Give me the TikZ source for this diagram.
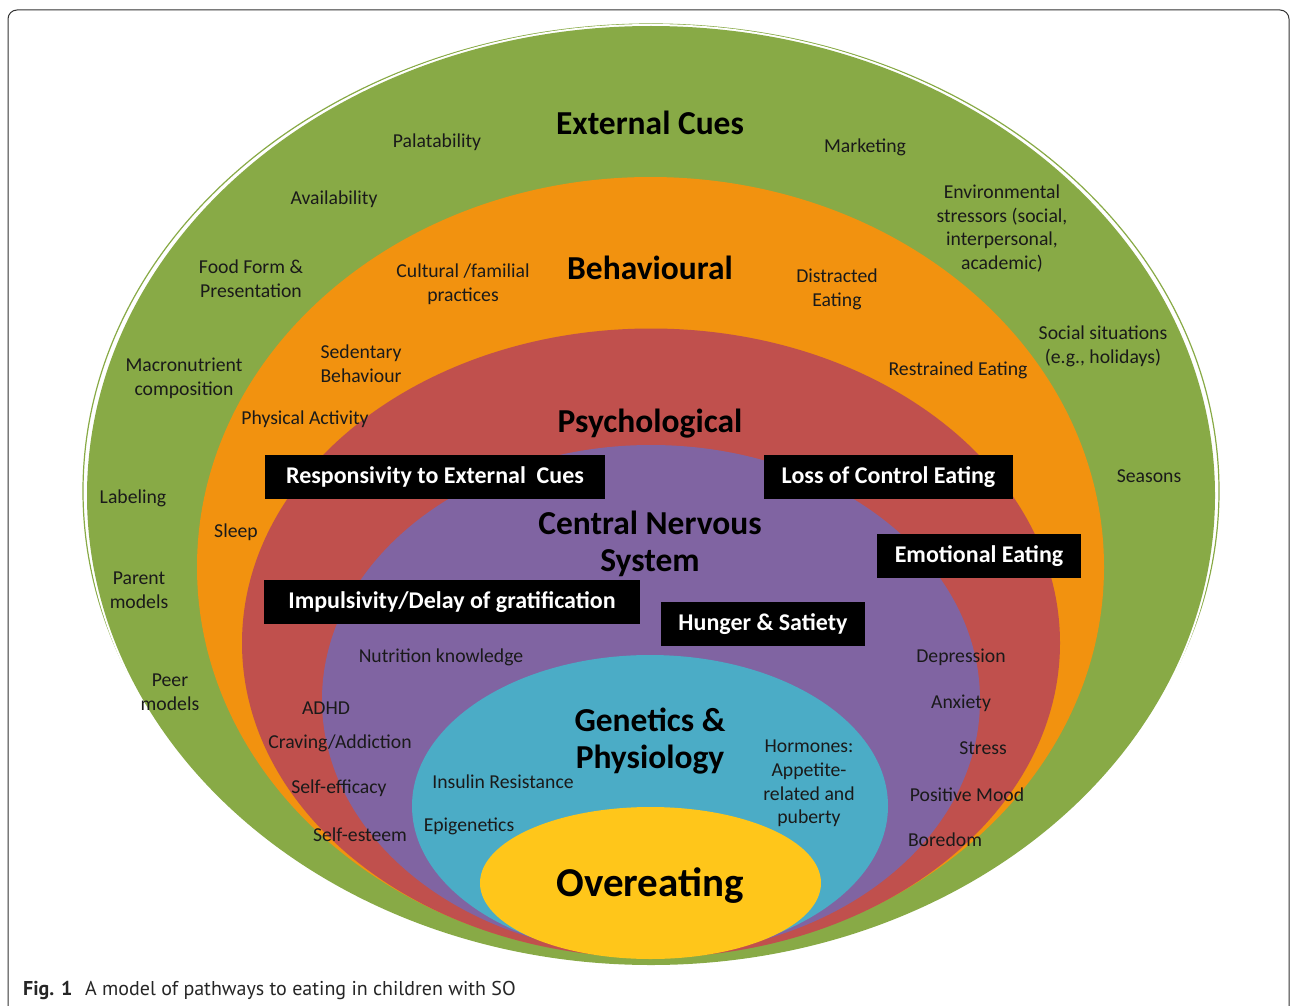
\documentclass[tikz,border=0pt]{standalone}
\usepackage{fontspec}
\setmainfont{Carlito}
\newfontfamily\capfont{PT Sans}
\definecolor{greenc}{HTML}{88AA46}
\definecolor{orangec}{HTML}{F2920F}
\definecolor{redc}{HTML}{C0504D}
\definecolor{purplec}{HTML}{8064A2}
\definecolor{bluec}{HTML}{4BACC6}
\definecolor{yellowc}{HTML}{FFC61A}
\definecolor{labelc}{HTML}{1A1A1A}
\definecolor{framec}{HTML}{333333}
\begin{document}
\begin{tikzpicture}[x=1pt,y=-1pt,
  lbl/.style={font=\fontsize{19.7}{23.6}\selectfont, text=labelc, align=center, inner sep=0pt, yshift=-1.5pt},
  ttl/.style={font=\fontsize{33.5}{37}\selectfont\bfseries, text=black, align=center, inner sep=0pt, yshift=-2.5pt},
  bigttl/.style={font=\fontsize{41}{45}\selectfont\bfseries, text=black, align=center, inner sep=0pt, yshift=-2.5pt},
  blackbox/.style={fill=black, text=white, font=\fontsize{24}{28}\selectfont\bfseries, inner sep=0pt, minimum height=44pt},
  capt/.style={font=\capfont\fontsize{20}{24}\selectfont, text=black!85, inner sep=0pt, anchor=base west}
]
\useasboundingbox (0,0) rectangle (1290,1006);
\fill[white] (0,0) rectangle (1290,1006);
\draw[framec, line width=1pt, rounded corners=9pt] (8,10) rectangle (1289,1016);

% rings
\draw[greenc, line width=1.2pt] (651,491) ellipse [x radius=568pt, y radius=467pt];
\fill[white] (651,495.5) ellipse [x radius=566pt, y radius=471.5pt];
\fill[greenc] (651,495.5) ellipse [x radius=564pt, y radius=469.5pt];
\fill[orangec] (650.5,567) ellipse [x radius=453.5pt, y radius=390pt];
\fill[redc] (651,643) ellipse [x radius=409pt, y radius=314.5pt];
\fill[purplec] (651,700) ellipse [x radius=329pt, y radius=255pt];
\fill[bluec] (650,806) ellipse [x radius=238pt, y radius=151pt];
\fill[yellowc] (650.5,883) ellipse [x radius=170.5pt, y radius=76pt];

% External cues
\node[ttl] (ext) at (650,120) {External Cues};
\node[lbl] (pal) at (437,141) {Palatability};
\node[lbl] (mkt) at (865,146) {Marketing};
\node[lbl] (ava) at (334,198) {Availability};
\node[lbl] (env) at (1002,227) {Environmental\\stressors (social,\\interpersonal,\\academic)};
\node[lbl] (ffp) at (251,277) {Food Form \&\\Presentation};
\node[lbl] (soc) at (1103,345) {Social situations\\(e.g., holidays)};
\node[lbl] (mac) at (184,377) {Macronutrient\\composition};
\node[lbl] (lab) at (133,497) {Labeling};
\node[lbl] (sea) at (1149,475) {Seasons};
\node[lbl] (par) at (139,589) {Parent\\models};
\node[lbl] (pee) at (170,691) {Peer\\models};

% Behavioural
\node[ttl] (beh) at (650,265) {Behavioural};
\node[lbl] (cul) at (463,283) {Cultural /familial\\practices};
\node[lbl] (dis) at (837,288) {Distracted\\Eating};
\node[lbl] (sed) at (361,362) {Sedentary\\Behaviour};
\node[lbl] (res) at (958,369) {Restrained Eating};
\node[lbl] (phy) at (305,418) {Physical Activity};
\node[lbl] (slp) at (236,531) {Sleep};

% Psychological
\node[ttl] (psy) at (650,421) {Psychological};
\node[blackbox, minimum width=340pt] (rtec) at (435,476.5) {Responsivity to External~ Cues};
\node[blackbox, minimum width=249pt] (loc) at (888.5,477) {Loss of Control Eating};
\node[blackbox, minimum width=204pt] (emo) at (979,556) {Emotional Eating};
\node[blackbox, minimum width=376pt] (imp) at (452,602) {Impulsivity/Delay of gratification};
\node[blackbox, minimum width=204pt] (hun) at (763,624) {Hunger \& Satiety};
\node[lbl] (adhd) at (326,707) {ADHD};
\node[lbl] (cra) at (340,742) {Craving/Addiction};
\node[lbl] (sef) at (339,787) {Self-efficacy};
\node[lbl] (ses) at (360,833) {Self-esteem};
\node[lbl] (dep) at (961,656) {Depression};
\node[lbl] (anx) at (961,702) {Anxiety};
\node[lbl] (str) at (983,747) {Stress};
\node[lbl] (pos) at (967,793) {Positive Mood};
\node[lbl] (bor) at (945,838) {Boredom};

% CNS
\node[ttl] (cns) at (650,541.5) {Central Nervous\\System};
\node[lbl] (nut) at (441,656) {Nutrition knowledge};

% Genetics
\node[ttl] (gen) at (650,738.5) {Genetics \&\\Physiology};
\node[lbl] (ins) at (503,780) {Insulin Resistance};
\node[lbl] (epi) at (469,825) {Epigenetics};
\node[lbl] (hor) at (809,782) {Hormones:\\Appetite-\\related and\\puberty};

% Overeating
\node[bigttl] (ove) at (650,883) {Overeating};

% caption
\node[capt] (fig) at (23,995) {\bfseries Fig. 1};
\node[capt] (cap) at (85,995) {A model of pathways to eating in children with SO};
\end{tikzpicture}
\end{document}
